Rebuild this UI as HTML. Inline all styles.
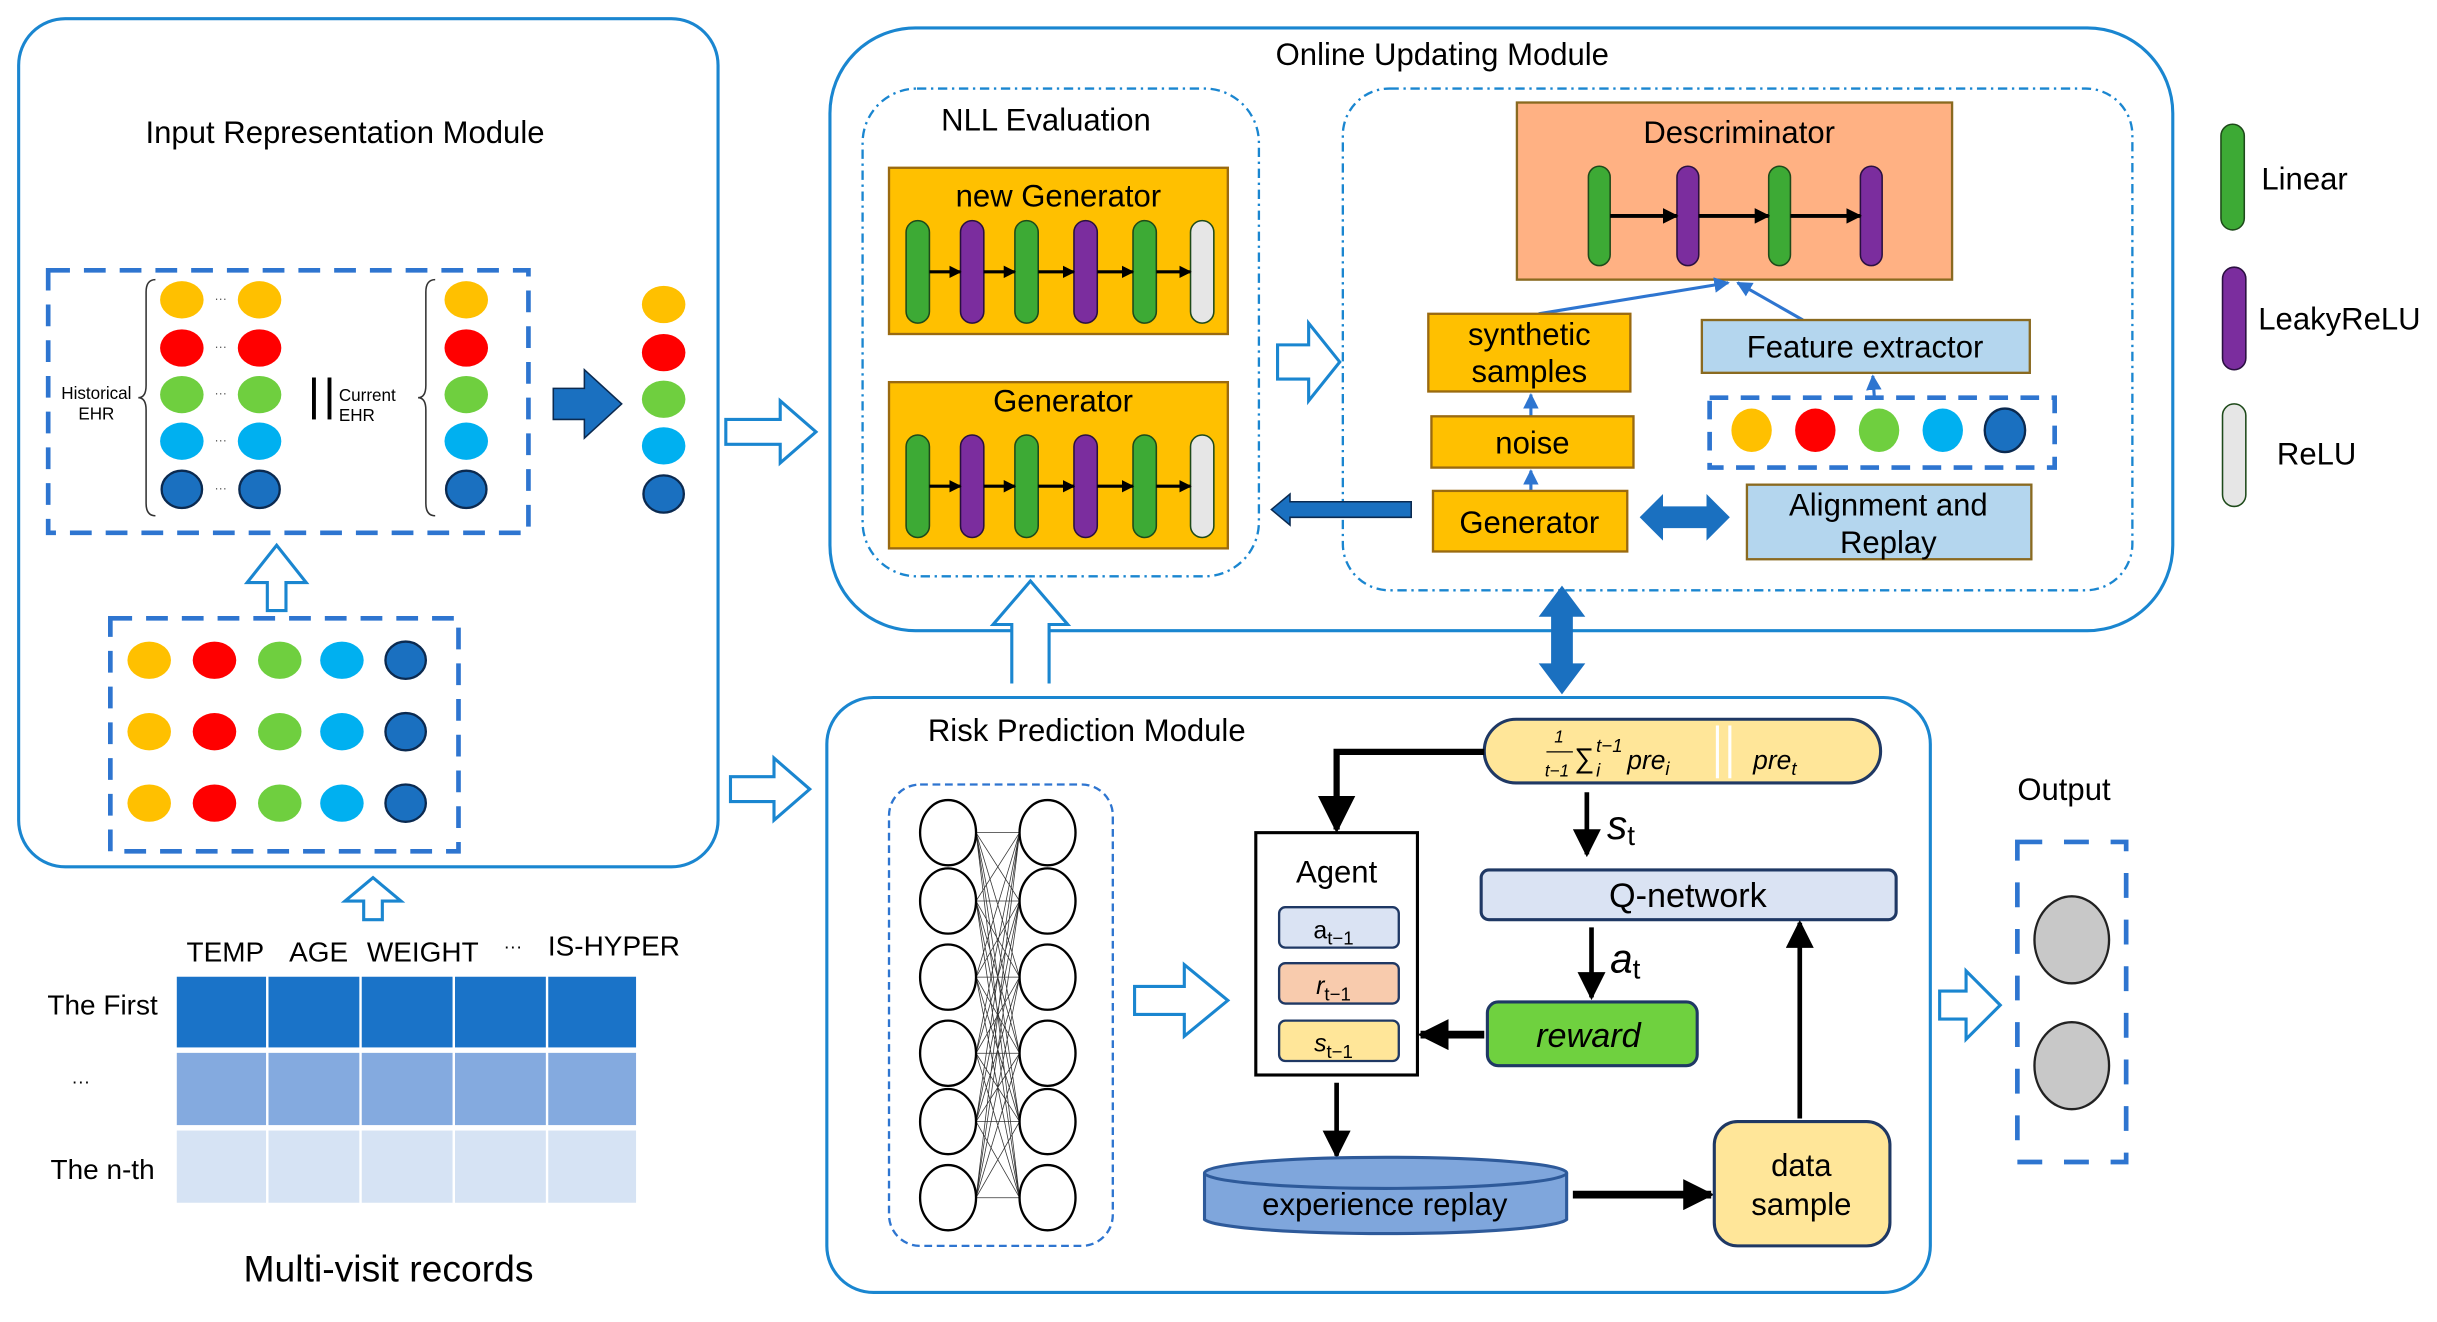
<!DOCTYPE html>
<html><head><meta charset="utf-8"><style>html,body{margin:0;padding:0;background:#fff}svg{display:block}text{font-family:"Liberation Sans",sans-serif}</style></head><body>
<svg width="2437" height="1322" viewBox="0 0 1568 851" preserveAspectRatio="none" xmlns="http://www.w3.org/2000/svg">
<defs>
<marker id="ab" viewBox="0 0 10 10" refX="9" refY="5" markerWidth="4" markerHeight="4" orient="auto"><path d="M0,0L10,5L0,10z" fill="#000"/></marker>
<marker id="as" viewBox="0 0 10 10" refX="9" refY="5" markerWidth="6" markerHeight="6" orient="auto"><path d="M0,0L10,5L0,10z" fill="#000"/></marker>
<marker id="abl" viewBox="0 0 10 10" refX="9" refY="5" markerWidth="5" markerHeight="5" orient="auto"><path d="M0,0L10,5L0,10z" fill="#2E75D0"/></marker>
</defs>
<rect width="1568" height="851" fill="#fff"/>

<!-- Input Representation Module -->
<rect x="12" y="12" width="450" height="546" rx="30" fill="none" stroke="#1a86d0" stroke-width="2"/>
<text x="222" y="92" font-size="20" text-anchor="middle">Input Representation Module</text>
<rect x="31" y="174" width="309" height="169" fill="none" stroke="#2E75D0" stroke-width="3" stroke-dasharray="14,9"/>
<g font-size="11"><text x="62" y="257" text-anchor="middle">Historical</text><text x="62" y="270" text-anchor="middle">EHR</text>
<text x="218" y="258">Current</text><text x="218" y="271">EHR</text></g>
<path d="M100,180 q-6,0 -6,8 v60 q0,8 -5,8 q5,0 5,8 v60 q0,8 6,8" fill="none" stroke="#333" stroke-width="1"/>
<path d="M280,180 q-6,0 -6,8 v60 q0,8 -5,8 q5,0 5,8 v60 q0,8 6,8" fill="none" stroke="#333" stroke-width="1"/>
<line x1="202" y1="243" x2="202" y2="270" stroke="#000" stroke-width="2.5"/><line x1="212" y1="243" x2="212" y2="270" stroke="#000" stroke-width="2.5"/>
<g id="col">
<ellipse cx="117" cy="193" rx="14" ry="12" fill="#FFC000"/><ellipse cx="117" cy="224" rx="14" ry="12" fill="#FF0000"/><ellipse cx="117" cy="254" rx="14" ry="12" fill="#6FCF3F"/><ellipse cx="117" cy="284" rx="14" ry="12" fill="#00B0F0"/><ellipse cx="117" cy="315" rx="13" ry="12" fill="#1A70C0" stroke="#0b2a50" stroke-width="1.5"/>
</g>
<use href="#col" x="50"/><use href="#col" x="183"/><use href="#col" x="310" y="3"/>
<g font-size="8" fill="#555"><text x="138" y="195">···</text><text x="138" y="226">···</text><text x="138" y="256">···</text><text x="138" y="286">···</text><text x="138" y="317">···</text></g>
<path d="M356,250 h20 v-12 l24,22 l-24,22 v-12 h-20z" fill="#1A70C0" stroke="#0b2a50" stroke-width="1"/>
<path d="M172,393 v-18 h-13 l19,-24 l19,24 h-13 v18z" fill="#fff" stroke="#1a86d0" stroke-width="2"/>
<rect x="71" y="398" width="224" height="150" fill="none" stroke="#2E75D0" stroke-width="3" stroke-dasharray="14,9"/>
<g id="row"><ellipse cx="96" cy="425" rx="14" ry="12" fill="#FFC000"/><ellipse cx="138" cy="425" rx="14" ry="12" fill="#FF0000"/><ellipse cx="180" cy="425" rx="14" ry="12" fill="#6FCF3F"/><ellipse cx="220" cy="425" rx="14" ry="12" fill="#00B0F0"/><ellipse cx="261" cy="425" rx="13" ry="12" fill="#1A70C0" stroke="#0b2a50" stroke-width="1.5"/></g>
<use href="#row" y="46"/><use href="#row" y="92"/>
<path d="M467,270 h35 v-12 l23,20 l-23,20 v-12 h-35z" fill="#fff" stroke="#1a86d0" stroke-width="2"/>
<path d="M470,500 h28 v-12 l23,20 l-23,20 v-12 h-28z" fill="#fff" stroke="#1a86d0" stroke-width="2"/>
<path d="M234,592 v-12 h-12 l18,-15 l18,15 h-12 v12z" fill="#fff" stroke="#1a86d0" stroke-width="2"/>

<!-- table -->
<g font-size="18"><text x="145" y="619" text-anchor="middle">TEMP</text><text x="205" y="619" text-anchor="middle">AGE</text><text x="272" y="619" text-anchor="middle">WEIGHT</text><text x="330" y="613" text-anchor="middle" font-size="12">···</text><text x="395" y="615" text-anchor="middle">IS-HYPER</text>
<text x="66" y="653" text-anchor="middle">The First</text><text x="52" y="700" text-anchor="middle" font-size="12">···</text><text x="66" y="759" text-anchor="middle">The n-th</text></g>
<g stroke="#fff" stroke-width="1.5">
<rect x="113" y="628" width="59" height="47" fill="#1A73C8"/><rect x="172" y="628" width="60" height="47" fill="#1A73C8"/><rect x="232" y="628" width="60" height="47" fill="#1A73C8"/><rect x="292" y="628" width="60" height="47" fill="#1A73C8"/><rect x="352" y="628" width="58" height="47" fill="#1A73C8"/>
<rect x="113" y="677" width="59" height="48" fill="#84AADF"/><rect x="172" y="677" width="60" height="48" fill="#84AADF"/><rect x="232" y="677" width="60" height="48" fill="#84AADF"/><rect x="292" y="677" width="60" height="48" fill="#84AADF"/><rect x="352" y="677" width="58" height="48" fill="#84AADF"/>
<rect x="113" y="727" width="59" height="48" fill="#D6E3F4"/><rect x="172" y="727" width="60" height="48" fill="#D6E3F4"/><rect x="232" y="727" width="60" height="48" fill="#D6E3F4"/><rect x="292" y="727" width="60" height="48" fill="#D6E3F4"/><rect x="352" y="727" width="58" height="48" fill="#D6E3F4"/></g>
<text x="250" y="825" font-size="24" text-anchor="middle">Multi-visit records</text>

<!-- Online Updating Module -->
<rect x="534" y="18" width="864" height="388" rx="55" fill="none" stroke="#1a86d0" stroke-width="2"/>
<text x="928" y="42" font-size="20" text-anchor="middle">Online Updating Module</text>
<rect x="555" y="57" width="255" height="314" rx="35" fill="none" stroke="#1a86d0" stroke-width="1.5" stroke-dasharray="6,3,1.5,3"/>
<text x="673" y="84" font-size="20" text-anchor="middle">NLL Evaluation</text>
<g id="gen">
<rect x="572" y="108" width="218" height="107" fill="#FFC000" stroke="#9a6a10" stroke-width="1.5"/>
<rect x="583" y="142" width="15" height="66" rx="7.5" fill="#3DAA35" stroke="#1e4a1a"/>
<rect x="618" y="142" width="15" height="66" rx="7.5" fill="#7B2D9E" stroke="#2a1040"/>
<rect x="653" y="142" width="15" height="66" rx="7.5" fill="#3DAA35" stroke="#1e4a1a"/>
<rect x="691" y="142" width="15" height="66" rx="7.5" fill="#7B2D9E" stroke="#2a1040"/>
<rect x="729" y="142" width="15" height="66" rx="7.5" fill="#3DAA35" stroke="#1e4a1a"/>
<rect x="766" y="142" width="15" height="66" rx="7.5" fill="#E6E6E6" stroke="#1e4a1a"/>
<g stroke="#000" stroke-width="2" marker-end="url(#ab)"><line x1="598" y1="175" x2="618" y2="175"/><line x1="633" y1="175" x2="653" y2="175"/><line x1="668" y1="175" x2="691" y2="175"/><line x1="706" y1="175" x2="729" y2="175"/><line x1="744" y1="175" x2="766" y2="175"/></g>
</g>
<text x="681" y="133" font-size="20" text-anchor="middle">new Generator</text>
<use href="#gen" y="138"/>
<text x="684" y="265" font-size="20" text-anchor="middle">Generator</text>
<path d="M822,222 h20 v-14 l20,25 l-20,25 v-14 h-20z" fill="#fff" stroke="#1a86d0" stroke-width="2"/>
<rect x="864" y="57" width="508" height="323" rx="30" fill="none" stroke="#1a86d0" stroke-width="1.5" stroke-dasharray="6,3,1.5,3"/>
<rect x="976" y="66" width="280" height="114" fill="#FFB183" stroke="#8a6a20" stroke-width="1.5"/>
<text x="1119" y="92" font-size="20" text-anchor="middle">Descriminator</text>
<rect x="1022" y="107" width="14" height="64" rx="7" fill="#3DAA35" stroke="#1e4a1a"/>
<rect x="1079" y="107" width="14" height="64" rx="7" fill="#7B2D9E" stroke="#2a1040"/>
<rect x="1138" y="107" width="14" height="64" rx="7" fill="#3DAA35" stroke="#1e4a1a"/>
<rect x="1197" y="107" width="14" height="64" rx="7" fill="#7B2D9E" stroke="#2a1040"/>
<g stroke="#000" stroke-width="2.5" marker-end="url(#ab)"><line x1="1036" y1="139" x2="1079" y2="139"/><line x1="1093" y1="139" x2="1138" y2="139"/><line x1="1152" y1="139" x2="1197" y2="139"/></g>
<g stroke="#2E75D0" stroke-width="2" marker-end="url(#abl)"><line x1="990" y1="202" x2="1112" y2="182"/><line x1="1160" y1="206" x2="1118" y2="182"/><line x1="985" y1="268" x2="985" y2="254"/><line x1="985" y1="316" x2="985" y2="303"/><line x1="1206" y1="256" x2="1205" y2="242"/></g>
<g fill="#FFC000" stroke="#9a6a10" stroke-width="1.5"><rect x="919" y="202" width="130" height="50"/><rect x="921" y="268" width="130" height="33"/><rect x="922" y="316" width="125" height="39"/></g>
<g font-size="20" text-anchor="middle"><text x="984" y="222">synthetic</text><text x="984" y="246">samples</text><text x="986" y="292">noise</text><text x="984" y="343">Generator</text></g>
<rect x="1095" y="206" width="211" height="34" fill="#B4D6EE" stroke="#8a6a20" stroke-width="1.5"/>
<text x="1200" y="230" font-size="20" text-anchor="middle">Feature extractor</text>
<rect x="1100" y="256" width="222" height="45" fill="none" stroke="#2E75D0" stroke-width="3" stroke-dasharray="12,8"/>
<ellipse cx="1127" cy="277" rx="13" ry="14" fill="#FFC000"/><ellipse cx="1168" cy="277" rx="13" ry="14" fill="#FF0000"/><ellipse cx="1209" cy="277" rx="13" ry="14" fill="#6FCF3F"/><ellipse cx="1250" cy="277" rx="13" ry="14" fill="#00B0F0"/><ellipse cx="1290" cy="277" rx="13" ry="14" fill="#1A70C0" stroke="#0b2a50" stroke-width="1.5"/>
<rect x="1124" y="312" width="183" height="48" fill="#B4D6EE" stroke="#8a6a20" stroke-width="1.5"/>
<text x="1215" y="332" font-size="20" text-anchor="middle">Alignment and</text><text x="1215" y="356" font-size="20" text-anchor="middle">Replay</text>
<path d="M1055,333 l15,-15 v8 h28 v-8 l15,15 l-15,15 v-8 h-28 v8z" fill="#1A70C0"/>
<path d="M818,328 l12,-10 v5 h78 v10 h-78 v5z" fill="#1A70C0" stroke="#0b2a50" stroke-width="1"/>
<path d="M651,440 v-38 h-12 l24,-28 l24,28 h-12 v38" fill="#fff" stroke="#1a86d0" stroke-width="2"/>
<path d="M1005,377 l15,20 h-8 v30 h8 l-15,20 l-15,-20 h8 v-30 h-8z" fill="#1A70C0"/>

<!-- legend -->
<rect x="1429" y="80" width="15" height="68" rx="7.5" fill="#3DAA35" stroke="#1e4a1a"/>
<rect x="1430" y="172" width="15" height="66" rx="7.5" fill="#7B2D9E" stroke="#2a1040"/>
<rect x="1430" y="260" width="15" height="66" rx="7.5" fill="#E6E6E6" stroke="#1e4a1a"/>
<g font-size="20"><text x="1455" y="122">Linear</text><text x="1453" y="212">LeakyReLU</text><text x="1465" y="299">ReLU</text></g>

<!-- Risk Prediction Module -->
<rect x="532" y="449" width="710" height="383" rx="30" fill="none" stroke="#1a86d0" stroke-width="2"/>
<text x="597" y="477" font-size="20">Risk Prediction Module</text>
<rect x="572" y="505" width="144" height="297" rx="20" fill="none" stroke="#2E75D0" stroke-width="1.5" stroke-dasharray="5,3"/>
<g stroke="#333" stroke-width="0.5">
<path d="M628,536L656,580M628,536L656,629M628,536L656,678M628,536L656,722M628,536L656,771M628,580L656,536M628,580L656,629M628,580L656,678M628,580L656,722M628,580L656,771M628,629L656,536M628,629L656,580M628,629L656,678M628,629L656,722M628,629L656,771M628,678L656,536M628,678L656,580M628,678L656,629M628,678L656,722M628,678L656,771M628,722L656,536M628,722L656,580M628,722L656,629M628,722L656,678M628,722L656,771M628,771L656,536M628,771L656,580M628,771L656,629M628,771L656,678M628,771L656,722M628,536H656M628,580H656M628,629H656M628,678H656M628,722H656M628,771H656"/></g>
<g fill="#fff" stroke="#000" stroke-width="1.5">
<ellipse cx="610" cy="536" rx="18" ry="21"/><ellipse cx="610" cy="580" rx="18" ry="21"/><ellipse cx="610" cy="629" rx="18" ry="21"/><ellipse cx="610" cy="678" rx="18" ry="21"/><ellipse cx="610" cy="722" rx="18" ry="21"/><ellipse cx="610" cy="771" rx="18" ry="21"/>
<ellipse cx="674" cy="536" rx="18" ry="21"/><ellipse cx="674" cy="580" rx="18" ry="21"/><ellipse cx="674" cy="629" rx="18" ry="21"/><ellipse cx="674" cy="678" rx="18" ry="21"/><ellipse cx="674" cy="722" rx="18" ry="21"/><ellipse cx="674" cy="771" rx="18" ry="21"/></g>
<path d="M730,635 h32 v-14 l28,23 l-28,23 v-14 h-32z" fill="#fff" stroke="#1a86d0" stroke-width="2"/>
<rect x="808" y="536" width="104" height="156" fill="#fff" stroke="#000" stroke-width="2"/>
<text x="860" y="568" font-size="20" text-anchor="middle">Agent</text>
<rect x="823" y="584" width="77" height="26" rx="4" fill="#DAE3F3" stroke="#1f3864" stroke-width="1.5"/>
<rect x="823" y="620" width="77" height="26" rx="4" fill="#F8CBAD" stroke="#1f3864" stroke-width="1.5"/>
<rect x="823" y="657" width="77" height="26" rx="4" fill="#FFE699" stroke="#1f3864" stroke-width="1.5"/>
<g font-family="Liberation Serif" font-size="16" text-anchor="middle"><text x="858" y="604">a<tspan font-size="12" dy="4">t−1</tspan></text><text x="858" y="640" font-style="italic">r<tspan font-size="12" dy="4" font-style="normal">t−1</tspan></text><text x="858" y="677" font-style="italic">s<tspan font-size="12" dy="4" font-style="normal">t−1</tspan></text></g>
<rect x="955" y="463" width="255" height="41" rx="20.5" fill="#FFE699" stroke="#1f3864" stroke-width="2"/>
<g font-family="Liberation Serif" font-style="italic"><text x="1000" y="478" font-size="11">1</text><line x1="995" y1="484" x2="1012" y2="484" stroke="#000" stroke-width="0.8"/><text x="994" y="500" font-size="11">t−1</text>
<text x="1013" y="494" font-size="18" font-style="normal">∑</text><text x="1027" y="484" font-size="12">t−1</text><text x="1027" y="500" font-size="12">i</text>
<text x="1047" y="495" font-size="17">pre<tspan font-size="12" dy="4">i</tspan></text><text x="1128" y="495" font-size="17">pre<tspan font-size="12" dy="4">t</tspan></text></g>
<line x1="1105" y1="467" x2="1105" y2="501" stroke="#fff" stroke-width="2"/><line x1="1113" y1="467" x2="1113" y2="501" stroke="#fff" stroke-width="2"/>
<polyline points="955,484 860,484 860,534" fill="none" stroke="#000" stroke-width="4" marker-end="url(#as)"/>
<line x1="1021" y1="510" x2="1021" y2="550" stroke="#000" stroke-width="3" marker-end="url(#as)"/>
<text x="1034" y="540" font-family="Liberation Serif" font-style="italic" font-size="26">s<tspan font-style="normal" font-size="18" dy="4">t</tspan></text>
<rect x="953" y="560" width="267" height="32" rx="5" fill="#DAE3F3" stroke="#1f3864" stroke-width="2"/>
<text x="1086" y="584" font-size="22" text-anchor="middle">Q-network</text>
<line x1="1024" y1="597" x2="1024" y2="642" stroke="#000" stroke-width="3" marker-end="url(#as)"/>
<text x="1036" y="626" font-family="Liberation Serif" font-style="italic" font-size="26">a<tspan font-style="normal" font-size="18" dy="4">t</tspan></text>
<rect x="957" y="645" width="135" height="41" rx="7" fill="#6FD13F" stroke="#1f3864" stroke-width="2"/>
<text x="1022" y="674" font-family="Liberation Serif" font-style="italic" font-size="22" text-anchor="middle">reward</text>
<line x1="955" y1="666" x2="914" y2="666" stroke="#000" stroke-width="5" marker-end="url(#ab)"/>
<line x1="860" y1="697" x2="860" y2="744" stroke="#000" stroke-width="3" marker-end="url(#as)"/>
<path d="M775,755 v30 a117,10 0 0 0 233,0 v-30" fill="#7FA6DC" stroke="#2E5A9A" stroke-width="2"/>
<ellipse cx="891.5" cy="755" rx="116.5" ry="10" fill="#7FA6DC" stroke="#2E5A9A" stroke-width="2"/>
<text x="891" y="782" font-size="20" text-anchor="middle">experience replay</text>
<line x1="1012" y1="769" x2="1101" y2="769" stroke="#000" stroke-width="5" marker-end="url(#ab)"/>
<rect x="1103" y="722" width="113" height="80" rx="15" fill="#FFE699" stroke="#1f3864" stroke-width="2"/>
<text x="1159" y="757" font-size="20" text-anchor="middle">data</text><text x="1159" y="782" font-size="20" text-anchor="middle">sample</text>
<line x1="1158" y1="720" x2="1158" y2="594" stroke="#000" stroke-width="3" marker-end="url(#as)"/>

<!-- Output -->
<text x="1328" y="515" font-size="20" text-anchor="middle">Output</text>
<rect x="1298" y="542" width="70" height="206" fill="none" stroke="#2E75D0" stroke-width="3" stroke-dasharray="16,14"/>
<ellipse cx="1333" cy="605" rx="24" ry="28" fill="#C8C8C8" stroke="#222" stroke-width="1.5"/>
<ellipse cx="1333" cy="686" rx="24" ry="28" fill="#C8C8C8" stroke="#222" stroke-width="1.5"/>
<path d="M1248,638 h17 v-13 l22,22 l-22,22 v-13 h-17z" fill="#fff" stroke="#1a86d0" stroke-width="2"/>
</svg>
</body></html>
